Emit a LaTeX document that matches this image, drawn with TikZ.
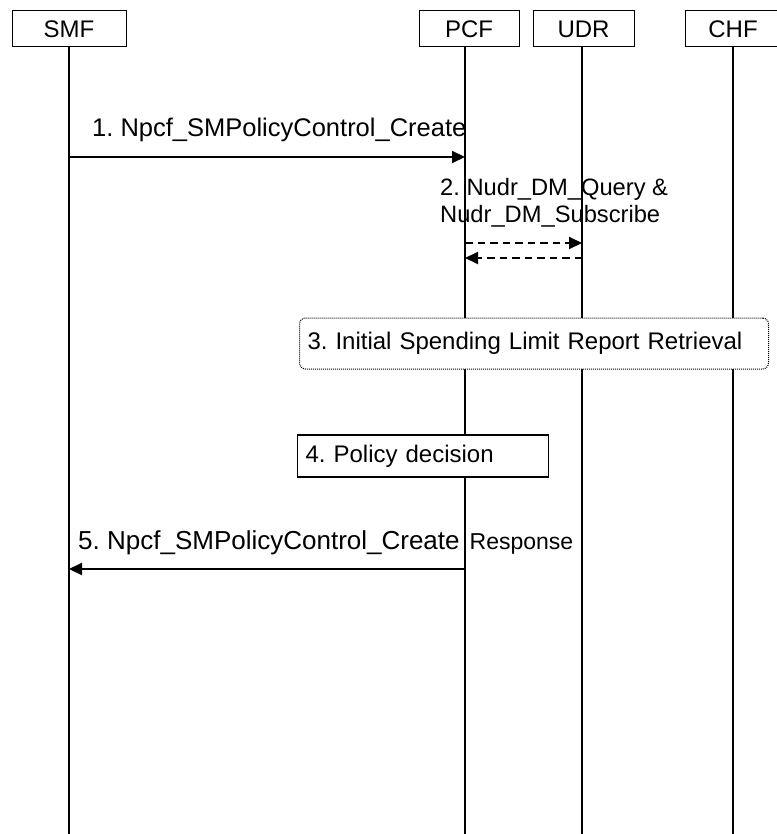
\documentclass[tikz,border=0pt]{standalone}
\usepackage{fontspec}
\setmainfont{Liberation Sans}
\usepackage{tikz}
\usetikzlibrary{arrows.meta}
\frenchspacing
\tikzstyle{entity} = [rectangle, minimum width=100pt, minimum height=36pt, inner sep=0pt, text centered, draw=black, line width=1pt, fill=white]
\tikzstyle{lifeline} = [draw=black, line width=1.2pt]
\tikzstyle{msg} = [line width=2pt, -{Triangle[length=13pt, width=12pt]}]
\tikzstyle{reply} = [msg, dash pattern=on 7.5pt off 5pt]
\tikzstyle{label} = [inner sep=0pt, font=\fontsize{25.5}{28}\selectfont]
\tikzstyle{procbox} = [rectangle, fill=white, draw=black, inner sep=8pt, align=left, font=\fontsize{24}{27}\selectfont]

\begin{document}
\begin{tikzpicture}[x=1pt, y=-1pt]
    \useasboundingbox (0,0) rectangle (776,834);
    \node (smf) [entity, minimum width=114pt, font=\fontsize{24}{27}\selectfont] at (69,29) {SMF};
    \node (pcf) [entity, font=\fontsize{24}{27}\selectfont] at (469,29) {PCF};
    \node (udr) [entity, minimum width=101pt, font=\fontsize{24}{27}\selectfont] at (583.5,29) {UDR};
    \node (chf) [entity, minimum width=96pt, font=\fontsize{24}{27}\selectfont] at (733,29) {CHF};
    \coordinate (smfL) at (69,834);
    \coordinate (pcfL) at (465,834);
    \coordinate (udrL) at (582,834);
    \coordinate (chfL) at (733,834);
    \draw [lifeline] (smf.south -| smfL) -- (smfL);
    \draw [lifeline] (pcf.south -| pcfL) -- (pcfL);
    \draw [lifeline] (udr.south -| udrL) -- (udrL);
    \draw [lifeline] (chf.south -| chfL) -- (chfL);

    \node (m1) [label, anchor=base west] at (92,137) {1. Npcf\_SMPolicyControl\_Create};
    \draw [msg] (smfL |- 0,157) -- (pcfL |- 0,157);

    \node (m2) [label, anchor=north west, align=left, font=\fontsize{23.7}{27}\selectfont] at (440,178.5) {2. Nudr\_DM\_Query \&\\Nudr\_DM\_Subscribe};
    \draw [reply] (pcfL |- 0,243) -- (udrL |- 0,243);
    \draw [reply] (udrL |- 0,258) -- (pcfL |- 0,258);

    \node (s3) [procbox, rounded corners=6pt, densely dotted, line width=1pt, text width=453pt, minimum height=51pt, anchor=west] at (299,343.5) {3. Initial Spending Limit Report Retrieval};
    \node (s4) [procbox, line width=1.2pt, text width=235pt, minimum height=42pt, anchor=west] at (297,456) {4. Policy decision};

    \node (m5) [label, anchor=base west, font=\fontsize{26}{28}\selectfont] at (78,549) {5. Npcf\_SMPolicyControl\_Create\hspace{10pt}{\fontsize{23}{24}\selectfont Response}};
    \draw [msg] (pcfL |- 0,569) -- (smfL |- 0,569);
\end{tikzpicture}
\end{document}
